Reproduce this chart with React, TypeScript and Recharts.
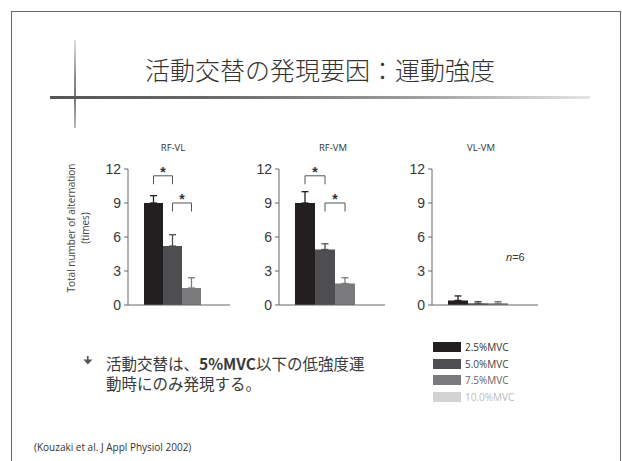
import { BarChart, Bar, Cell, XAxis, YAxis, ErrorBar, ReferenceLine } from 'recharts'

// contraction intensity levels (one bar each)
const intensities = ['2.5%MVC', '5.0%MVC', '7.5%MVC', '10.0%MVC']
const barColors = ['#231f20', '#4e4e50', '#7a7a7c', '#d3d3d3']
const legendText = ['#333333', '#444444', '#666666', '#bbbbbb']

// muscle pairs
const pairs = ['RF-VL', 'RF-VM', 'VL-VM']

// mean and SD of alternation count per intensity
const rfVlMean = [9.0, 5.2, 1.5, 0]
const rfVlSd = [0.65, 1.0, 0.9, 0]
const rfVmMean = [9.0, 4.9, 1.9, 0]
const rfVmSd = [1.0, 0.5, 0.5, 0]
const vlVmMean = [0.4, 0.15, 0.15, 0]
const vlVmSd = [0.4, 0.15, 0.15, 0]

const yTicks = [0, 3, 6, 9, 12]

// significance brackets: [from, to] bar index, top and foot level
const sigPairs = [[0, 1], [1, 2]]
const sigTop = [11.4, 9.0]
const sigFoot = [10.65, 8.25]

type Row = { name: string; mean: number; sd: number; idx: number }

const toRows = (means: number[], sds: number[]): Row[] =>
  intensities.map((name, i) => ({ name, mean: means[i], sd: sds[i], idx: i }))

const panels = [
  { title: pairs[0], rows: toRows(rfVlMean, rfVlSd), axisX: 128, plotW: 102, titleX: 173, sig: true },
  { title: pairs[1], rows: toRows(rfVmMean, rfVmSd), axisX: 279, plotW: 106, titleX: 333, sig: true },
  { title: pairs[2], rows: toRows(vlVmMean, vlVmSd), axisX: 432, plotW: 106, titleX: 481, sig: false },
]

const Y_W = 40
const CHART_TOP = 155

// asterisk centred over a bracket
function Star(props: any) {
  const vb = props.viewBox || {}
  return (
    <text
      x={vb.x + vb.width / 2}
      y={vb.y + 1}
      textAnchor="middle"
      fontSize={14}
      fontWeight="bold"
      fill="#333"
      fontFamily='"Liberation Sans"'
    >
      *
    </text>
  )
}

function Panel({ p }: { p: (typeof panels)[number] }) {
  return (
    <>
      <div
        style={{
          position: 'absolute', left: p.titleX - 40, width: 80, top: 141, textAlign: 'center',
          fontFamily: '"Open Sans"', fontSize: 9.5, color: '#333', lineHeight: '14px',
        }}
      >
        {p.title}
      </div>
      <div style={{ position: 'absolute', left: p.axisX - Y_W, top: CHART_TOP }}>
        <BarChart
          width={Y_W + p.plotW + 2}
          height={157}
          data={p.rows}
          margin={{ top: 14, right: 2, bottom: 6, left: 0 }}
          barCategoryGap={0}
          barGap={0}
        >
          <XAxis
            dataKey="name"
            tick={false}
            tickLine={false}
            height={1}
            axisLine={{ stroke: '#666', strokeWidth: 1 }}
            padding={{ left: 16, right: 10 }}
          />
          <YAxis
            width={Y_W}
            domain={[0, 12]}
            ticks={yTicks}
            interval={0}
            tickSize={4}
            tickMargin={3}
            axisLine={{ stroke: '#666', strokeWidth: 1 }}
            tickLine={{ stroke: '#666' }}
            tick={{ fontSize: 14, fill: '#383838', fontFamily: '"Liberation Sans"' }}
          />
          <Bar dataKey="mean" isAnimationActive={false}>
            {p.rows.map((r) => (
              <Cell key={r.name} fill={barColors[r.idx]} />
            ))}
            {intensities.map((name, i) => (
              <ErrorBar
                key={name}
                dataKey={(d: Row) => (d.idx === i && d.sd > 0 ? [0, d.sd] : undefined)}
                width={3.5}
                stroke={barColors[i]}
                strokeWidth={1.3}
                isAnimationActive={false}
              />
            ))}
          </Bar>
          {p.sig &&
            sigPairs.map(([a, b], k) => [
              <ReferenceLine
                key={`t${k}`}
                segment={[{ x: intensities[a], y: sigTop[k] }, { x: intensities[b], y: sigTop[k] }]}
                stroke="#555"
                strokeWidth={1}
                label={<Star />}
              />,
              <ReferenceLine
                key={`a${k}`}
                segment={[{ x: intensities[a], y: sigTop[k] }, { x: intensities[a], y: sigFoot[k] }]}
                stroke="#555"
                strokeWidth={1}
              />,
              <ReferenceLine
                key={`b${k}`}
                segment={[{ x: intensities[b], y: sigTop[k] }, { x: intensities[b], y: sigFoot[k] }]}
                stroke="#555"
                strokeWidth={1}
              />,
            ])}
        </BarChart>
      </div>
    </>
  )
}

export default function App() {
  return (
    <div
      style={{
        position: 'absolute', left: 0, top: 0, width: 622, height: 461, overflow: 'hidden',
        background: '#fff', fontFamily: '"Noto Sans CJK JP"',
      }}
    >
      {/* slide frame, cut off at the bottom */}
      <div
        style={{
          position: 'absolute', left: 11, top: 11, width: 608, height: 480,
          borderLeft: '1.5px solid #666', borderTop: '1.5px solid #666', borderRight: '1.5px solid #666',
        }}
      />
      {/* title cross lines */}
      <div
        style={{
          position: 'absolute', left: 74, top: 40, width: 2, height: 88,
          background: 'linear-gradient(to bottom, #e0e0e0, #888 45%, #777 65%, #bbb)',
        }}
      />
      <div
        style={{
          position: 'absolute', left: 50, top: 96, width: 540, height: 3,
          background: 'linear-gradient(to right, #555, #6a6a6a 30%, #999 65%, #e4e4e4)',
        }}
      />
      <div
        style={{
          position: 'absolute', left: 145, top: 57, fontSize: 25, lineHeight: '25px',
          color: '#333', fontWeight: 300, whiteSpace: 'nowrap',
        }}
      >
        活動交替の発現要因：運動強度
      </div>

      {/* shared y-axis label */}
      <div
        style={{
          position: 'absolute', left: -2, top: 214, width: 160, height: 28, transform: 'rotate(-90deg)',
          textAlign: 'center', fontFamily: '"Open Sans"', fontSize: 10, lineHeight: '14px', color: '#444',
        }}
      >
        Total number of alternation
        <br />
        (times)
      </div>

      {panels.map((p) => (
        <Panel key={p.title} p={p} />
      ))}

      <div
        style={{
          position: 'absolute', left: 506, top: 250, fontFamily: '"Liberation Sans"', fontSize: 11,
          color: '#333', lineHeight: '14px',
        }}
      >
        <i>n</i>=6
      </div>

      {/* legend */}
      {intensities.map((name, i) => (
        <div
          key={name}
          style={{ position: 'absolute', left: 433, top: 342 + i * 16.5, display: 'flex', alignItems: 'center', height: 10 }}
        >
          <div style={{ width: 28, height: 10, background: barColors[i] }} />
          <span
            style={{ marginLeft: 4, fontFamily: '"Open Sans"', fontSize: 10, color: legendText[i], lineHeight: '10px' }}
          >
            {name}
          </span>
        </div>
      ))}

      {/* bullet */}
      <svg style={{ position: 'absolute', left: 83, top: 356 }} width={10} height={10}>
        <rect x={4} y={0} width={1.6} height={4} fill="#555" />
        <path d="M0.5 3.5 L9.5 3.5 L4.8 8.5 Z" fill="#555" />
      </svg>
      <div
        style={{
          position: 'absolute', left: 106, top: 353, fontSize: 15.5, lineHeight: '20px', color: '#3a3a3a',
          whiteSpace: 'nowrap',
        }}
      >
        <div>
          活動交替は、<b>5%MVC</b>以下の低強度運
        </div>
        <div>動時にのみ発現する。</div>
      </div>

      <div
        style={{
          position: 'absolute', left: 34, top: 441, fontFamily: '"Open Sans"', fontSize: 10, color: '#333',
          lineHeight: '12px', whiteSpace: 'nowrap',
        }}
      >
        (Kouzaki et al. J Appl Physiol 2002)
      </div>
    </div>
  )
}
